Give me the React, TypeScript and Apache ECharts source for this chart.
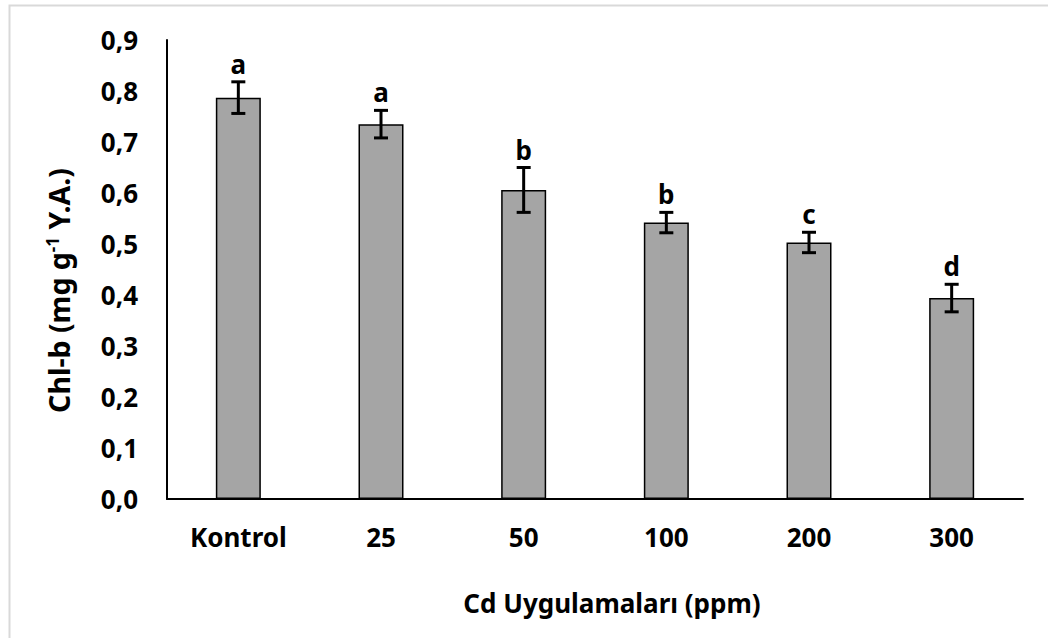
import React, { useEffect, useRef } from "react";
import * as echarts from "echarts";

const categories = ["Kontrol", "25", "50", "100", "200", "300"];
const values = [0.787, 0.735, 0.606, 0.542, 0.503, 0.394];
const errors = [0.031, 0.027, 0.044, 0.02, 0.02, 0.027];
const letters = ["a", "a", "b", "b", "c", "d"];
const yMin = 0;
const yMax = 0.9;
const yInterval = 0.1;

const FONT = "Noto Sans";

export default function App() {
  const ref = useRef<HTMLDivElement>(null);
  useEffect(() => {
    if (!ref.current) return;
    const chart = echarts.init(ref.current, null, { renderer: "svg" });
    const errData = values.map((v, i) => [i, v, errors[i]]);
    chart.setOption({
      animation: false,
      backgroundColor: "#ffffff",
      textStyle: { fontFamily: FONT },
      graphic: [
        {
          type: "rect",
          shape: { x: 9.5, y: 5.5, width: 1200, height: 800 },
          style: { fill: "none", stroke: "#d9d9d9", lineWidth: 2 },
          silent: true,
        },
      ],
      grid: { left: 167, right: 25, top: 40, bottom: 139, containLabel: false },
      xAxis: {
        type: "category",
        data: categories,
        axisLine: { show: true, lineStyle: { color: "#000", width: 2 } },
        axisTick: { show: false },
        axisLabel: {
          color: "#000",
          fontSize: 26,
          fontWeight: "bold",
          fontFamily: FONT,
          margin: 25,
        },
        name: "Cd Uygulamaları (ppm)",
        nameLocation: "middle",
        nameGap: 91,
        nameTextStyle: {
          color: "#000",
          fontSize: 26,
          fontWeight: "bold",
          fontFamily: FONT,
          padding: [0, 0, 0, 34],
        },
      },
      yAxis: {
        type: "value",
        min: yMin,
        max: yMax,
        interval: yInterval,
        axisLine: { show: true, lineStyle: { color: "#000", width: 2 } },
        axisTick: { show: false },
        splitLine: { show: false },
        axisLabel: {
          color: "#000",
          fontSize: 26,
          fontWeight: "bold",
          fontFamily: FONT,
          margin: 29,
          formatter: (v: number) => v.toFixed(1).replace(".", ","),
        },
        name: "Chl-b (mg g{sup|-1} Y.A.)",
        nameLocation: "middle",
        nameRotate: 90,
        nameGap: 94,
        nameTextStyle: {
          color: "#000",
          fontSize: 28.5,
          fontWeight: "bold",
          fontFamily: FONT,
          padding: [0, 42, 0, 0],
          rich: {
            sup: {
              fontSize: 17,
              fontWeight: "bold",
              fontFamily: FONT,
              color: "#000",
              verticalAlign: "top",
              lineHeight: 17,
            },
          },
        },
      },
      series: [
        {
          type: "bar",
          data: values,
          barWidth: 45,
          itemStyle: { color: "#a5a5a5", borderColor: "#000", borderWidth: 1.5 },
          z: 2,
        },
        {
          type: "custom",
          data: errData,
          z: 5,
          renderItem: (params: any, api: any) => {
            const i = api.value(0);
            const v = api.value(1);
            const e = api.value(2);
            const top = api.coord([i, v + e]);
            const bot = api.coord([i, v - e]);
            const cap = 7;
            const st = { stroke: "#000", lineWidth: 3 };
            return {
              type: "group",
              children: [
                { type: "line", shape: { x1: top[0], y1: top[1], x2: bot[0], y2: bot[1] }, style: st },
                { type: "line", shape: { x1: top[0] - cap, y1: top[1], x2: top[0] + cap, y2: top[1] }, style: st },
                { type: "line", shape: { x1: bot[0] - cap, y1: bot[1], x2: bot[0] + cap, y2: bot[1] }, style: st },
                {
                  type: "text",
                  style: {
                    x: top[0],
                    y: top[1] - 5,
                    text: letters[params.dataIndex],
                    fill: "#000",
                    fontSize: 26,
                    fontWeight: "bold",
                    fontFamily: FONT,
                    align: "center",
                    verticalAlign: "bottom",
                  },
                },
              ],
            };
          },
        },
      ],
    });
    return () => chart.dispose();
  }, []);
  return (
    <div
      ref={ref}
      style={{ position: "fixed", left: 0, top: 0, width: 1048, height: 638 }}
    />
  );
}
